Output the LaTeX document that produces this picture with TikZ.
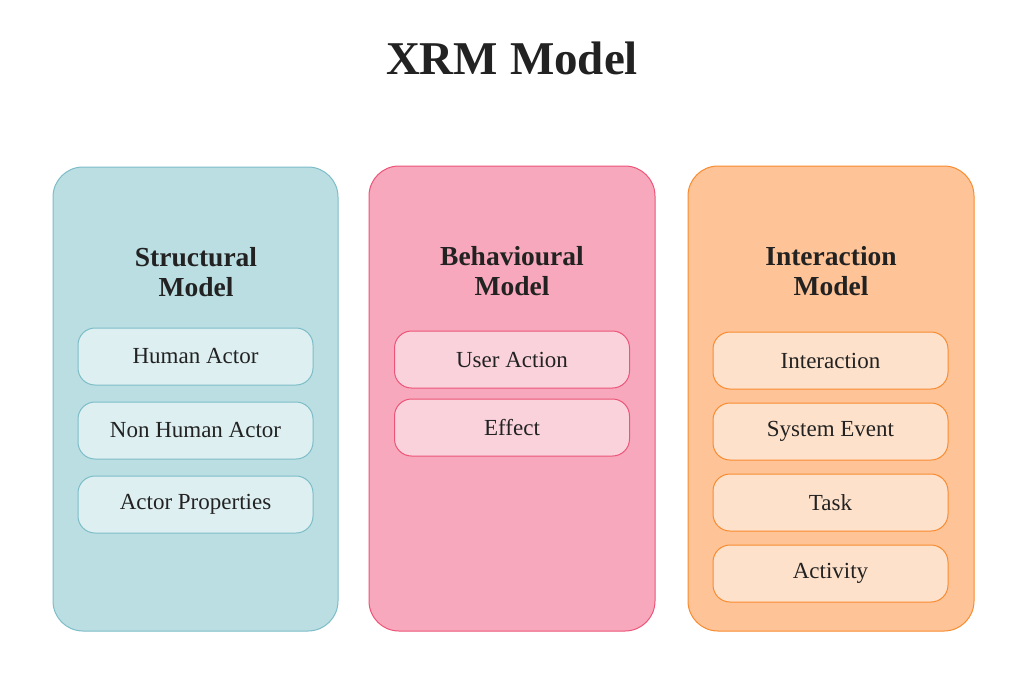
\documentclass[tikz,border=0pt]{standalone}
\usepackage{fontspec}
\setmainfont{Liberation Serif}
\definecolor{sfill}{HTML}{BBDEE2}
\definecolor{sdraw}{HTML}{7DBDC8}
\definecolor{sin}{HTML}{DDEFF1}
\definecolor{bfill}{HTML}{F8A8BC}
\definecolor{bdraw}{HTML}{EC5478}
\definecolor{bin}{HTML}{FAD2DC}
\definecolor{ifill}{HTML}{FEC397}
\definecolor{idraw}{HTML}{F98B30}
\definecolor{iin}{HTML}{FEE1CA}
\definecolor{txt}{HTML}{222222}
\begin{document}
\begin{tikzpicture}[x=1pt,y=-1pt,
  panel/.style={rounded corners=30pt, line width=1pt},
  item/.style={rounded corners=17pt, line width=1pt, minimum width=235pt, minimum height=57pt, inner sep=0pt, font=\fontsize{23}{27}\selectfont, text=txt},
  head/.style={align=center, font=\fontsize{27.5}{30}\selectfont\bfseries, text=txt},
]
\useasboundingbox (0,0) rectangle (1024,678);
\fill[white] (0,0) rectangle (1024,678);
\node[font=\fontsize{47}{52}\selectfont\bfseries, text=txt] (title) at (512,58) {XRM Model};
% panels
\draw[panel, fill=sfill, draw=sdraw] (53,167) rectangle (338,631);
\draw[panel, fill=bfill, draw=bdraw] (369,166) rectangle (655,631);
\draw[panel, fill=ifill, draw=idraw] (688,166) rectangle (974,631);
\node[head] (sh) at (196,272) {Structural\\Model};
\node[head] (bh) at (512,271) {Behavioural\\Model};
\node[head] (ih) at (831,271) {Interaction\\Model};
% structural items
\node[item, fill=sin, draw=sdraw] (s1) at (195.5,356.5) {Human Actor};
\node[item, fill=sin, draw=sdraw] (s2) at (195.5,430.5) {Non Human Actor};
\node[item, fill=sin, draw=sdraw] (s3) at (195.5,504.5) {Actor Properties};
% behavioural items
\node[item, fill=bin, draw=bdraw] (b1) at (512,359.5) {User Action};
\node[item, fill=bin, draw=bdraw] (b2) at (512,427.5) {Effect};
% interaction items
\node[item, fill=iin, draw=idraw] (i1) at (830.5,360.5) {Interaction};
\node[item, fill=iin, draw=idraw] (i2) at (830.5,431.5) {System Event};
\node[item, fill=iin, draw=idraw] (i3) at (830.5,502.5) {Task};
\node[item, fill=iin, draw=idraw] (i4) at (830.5,573.5) {Activity};
\end{tikzpicture}
\end{document}
